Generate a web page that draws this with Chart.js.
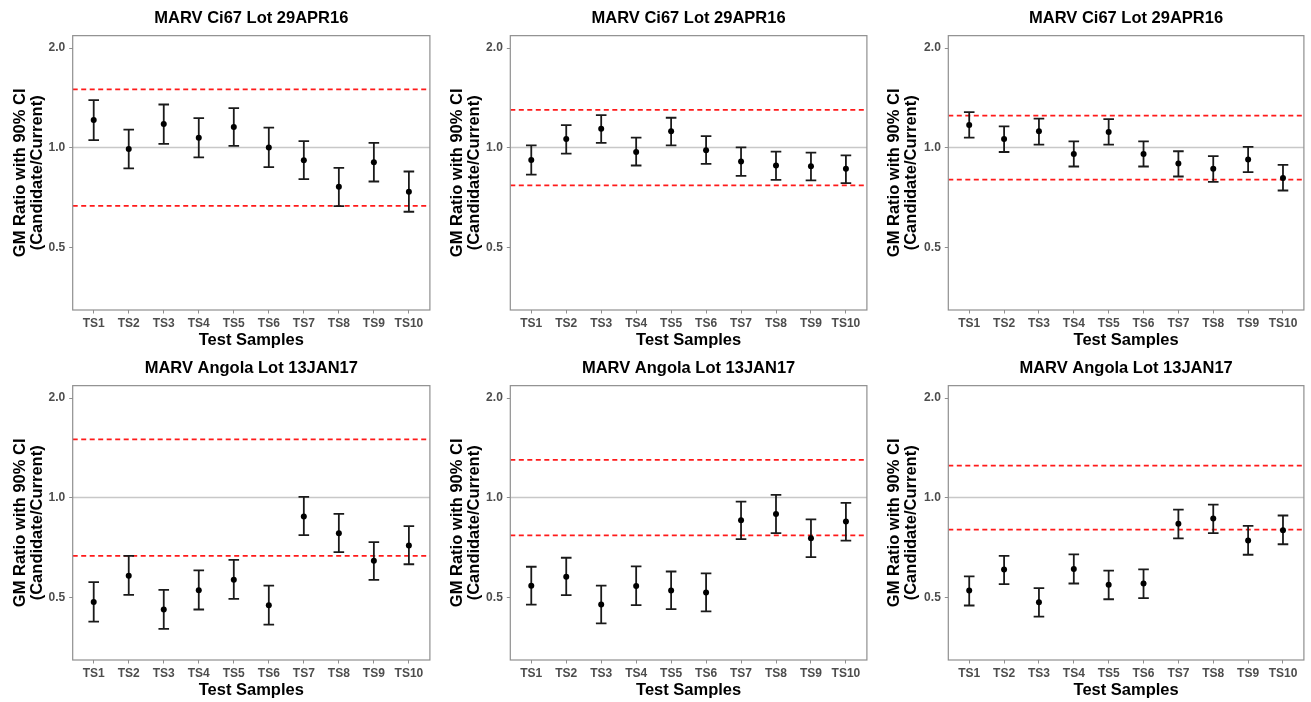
<!DOCTYPE html>
<html><head><meta charset="utf-8">
<script src="https://cdn.jsdelivr.net/npm/chart.js@4/dist/chart.umd.min.js"></script>
<style>
html,body{margin:0;padding:0;background:#fff;width:1311px;height:702px;overflow:hidden}
.p{position:absolute;width:437px;height:350px}
</style></head><body>
<div class="p" style="left:0px;top:0px"><canvas id="c0" width="437" height="350"></canvas></div>
<div class="p" style="left:437px;top:0px"><canvas id="c1" width="437" height="350"></canvas></div>
<div class="p" style="left:874px;top:0px"><canvas id="c2" width="437" height="350"></canvas></div>
<div class="p" style="left:0px;top:350px"><canvas id="c3" width="437" height="350"></canvas></div>
<div class="p" style="left:437px;top:350px"><canvas id="c4" width="437" height="350"></canvas></div>
<div class="p" style="left:874px;top:350px"><canvas id="c5" width="437" height="350"></canvas></div>
<script>
// ---- data ----
const categories = ['TS1','TS2','TS3','TS4','TS5','TS6','TS7','TS8','TS9','TS10'];
const yTicks = [0.5, 1.0, 2.0];
const refValue = 1.0;
const titles = ['MARV Ci67 Lot 29APR16','MARV Ci67 Lot 29APR16','MARV Ci67 Lot 29APR16',
                'MARV Angola Lot 13JAN17','MARV Angola Lot 13JAN17','MARV Angola Lot 13JAN17'];
const limitUpper = [1.5, 1.3, 1.25, 1.5, 1.3, 1.25];
const limitLower = [0.667, 0.769, 0.8, 0.667, 0.769, 0.8];

const gm1 = [1.211, 0.991, 1.178, 1.072, 1.154, 1.000, 0.916, 0.761, 0.903, 0.735];
const lo1 = [1.054, 0.866, 1.026, 0.935, 1.012, 0.873, 0.803, 0.666, 0.790, 0.640];
const hi1 = [1.392, 1.133, 1.350, 1.228, 1.316, 1.149, 1.047, 0.869, 1.033, 0.847];

const gm2 = [0.918, 1.062, 1.141, 0.970, 1.120, 0.982, 0.908, 0.883, 0.879, 0.863];
const lo2 = [0.829, 0.959, 1.033, 0.883, 1.016, 0.893, 0.822, 0.799, 0.796, 0.781];
const hi2 = [1.016, 1.170, 1.254, 1.072, 1.231, 1.084, 1.002, 0.973, 0.966, 0.948];

const gm3 = [1.170, 1.062, 1.120, 0.957, 1.115, 0.957, 0.895, 0.863, 0.920, 0.810];
const lo3 = [1.072, 0.970, 1.021, 0.877, 1.021, 0.877, 0.818, 0.788, 0.843, 0.742];
const hi3 = [1.281, 1.159, 1.223, 1.045, 1.220, 1.045, 0.975, 0.942, 1.005, 0.887];

const gm4 = [0.484, 0.581, 0.459, 0.525, 0.565, 0.473, 0.877, 0.781, 0.645, 0.717];
const lo4 = [0.422, 0.508, 0.401, 0.459, 0.494, 0.413, 0.770, 0.684, 0.564, 0.629];
const hi4 = [0.555, 0.667, 0.526, 0.603, 0.648, 0.542, 1.005, 0.893, 0.734, 0.820];

const gm5 = [0.542, 0.577, 0.475, 0.541, 0.524, 0.517, 0.855, 0.893, 0.754, 0.847];
const lo5 = [0.475, 0.507, 0.417, 0.473, 0.460, 0.453, 0.749, 0.781, 0.661, 0.741];
const hi5 = [0.618, 0.658, 0.542, 0.620, 0.598, 0.590, 0.973, 1.019, 0.859, 0.964];

const gm6 = [0.524, 0.606, 0.483, 0.608, 0.545, 0.550, 0.834, 0.865, 0.742, 0.797];
const lo6 = [0.472, 0.548, 0.437, 0.550, 0.493, 0.497, 0.753, 0.781, 0.672, 0.723];
const hi6 = [0.578, 0.667, 0.533, 0.674, 0.602, 0.607, 0.920, 0.953, 0.822, 0.883];

const panels = [
  {gm: gm1, lo: lo1, hi: hi1}, {gm: gm2, lo: lo2, hi: hi2}, {gm: gm3, lo: lo3, hi: hi3},
  {gm: gm4, lo: lo4, hi: hi4}, {gm: gm5, lo: lo5, hi: hi5}, {gm: gm6, lo: lo6, hi: hi6}
];

// ---- layout / style ----
const Y_MIN = 0.323, Y_MAX = 2.18;
const X_MIN = 0.4, X_MAX = 10.6;
const colAxisW = [72.7, 73.3, 74.3];
const colRightPad = [3.7, 2.3, 3.7];
const FONT = "'Liberation Sans', Arial, Helvetica, sans-serif";

const framePlugin = {
  id: 'frame',
  afterDraw(chart) {
    const {ctx, chartArea: a} = chart;
    ctx.save();
    ctx.strokeStyle = '#8f8f8f';
    ctx.lineWidth = 1.2;
    ctx.strokeRect(a.left, a.top, a.right - a.left, a.bottom - a.top);
    ctx.restore();
  }
};

panels.forEach((p, k) => {
  const col = k % 3;
  const xs = categories.map((c, i) => i + 1);
  const whisker = [];
  xs.forEach((x, i) => {
    whisker.push({x: x, y: p.lo[i]}, {x: x, y: p.hi[i]}, {x: x, y: null});
  });
  const pts = xs.map((x, i) => ({x: x, y: p.gm[i]}));
  const hline = (v) => [{x: X_MIN, y: v}, {x: X_MAX, y: v}];

  new Chart(document.getElementById('c' + k), {
    type: 'line',
    data: {
      datasets: [
        {data: pts, showLine: false, pointRadius: 3, pointBackgroundColor: '#000', pointBorderColor: '#000', pointBorderWidth: 0, order: 0},
        {data: whisker, spanGaps: false, borderColor: '#1a1a1a', borderWidth: 1.8,
         pointStyle: 'line', pointRadius: 5.3, pointBorderColor: '#1a1a1a', pointBorderWidth: 1.8, order: 1},
        {data: hline(limitUpper[k]), borderColor: '#ff1a1a', borderWidth: 1.8, borderDash: [5, 3.5], pointRadius: 0, order: 2},
        {data: hline(limitLower[k]), borderColor: '#ff1a1a', borderWidth: 1.8, borderDash: [5, 3.5], pointRadius: 0, order: 2},
        {data: hline(refValue), borderColor: '#c8c8c8', borderWidth: 1.5, pointRadius: 0, order: 3}
      ]
    },
    options: {
      responsive: false,
      animation: false,
      events: [],
      layout: {padding: {left: 0, right: colRightPad[col], top: 0, bottom: 0}},
      plugins: {
        legend: {display: false},
        tooltip: {enabled: false},
        title: {
          display: true, text: titles[k], fullSize: false, color: '#000',
          font: {family: FONT, size: 16.5, weight: 'bold', lineHeight: 1.1},
          padding: {top: 9.5, bottom: 8}
        }
      },
      scales: {
        x: {
          type: 'linear', min: X_MIN, max: X_MAX, bounds: 'data',
          afterBuildTicks: (s) => { s.ticks = xs.map(v => ({value: v})); s.min = X_MIN; s.max = X_MAX; },
          afterFit: (s) => { s.height = 40; },
          ticks: {
            autoSkip: false, maxRotation: 0, minRotation: 0, padding: 2.5,
            color: '#4d4d4d', font: {family: FONT, size: 12, weight: 'bold'},
            callback: (v) => categories[Math.round(v) - 1]
          },
          grid: {display: true, drawOnChartArea: false, drawTicks: true, tickLength: 3.5, color: '#8f8f8f', lineWidth: 1},
          border: {display: false},
          title: {display: true, text: 'Test Samples', color: '#000',
                  font: {family: FONT, size: 16.5, weight: 'bold', lineHeight: 1.2}, padding: {top: 0, bottom: 0}}
        },
        y: {
          type: 'logarithmic', min: Y_MIN, max: Y_MAX, bounds: 'data',
          afterBuildTicks: (s) => { s.ticks = yTicks.map(v => ({value: v})); s.min = Y_MIN; s.max = Y_MAX; },
          afterFit: (s) => { s.width = colAxisW[col]; },
          ticks: {
            padding: 4, color: '#4d4d4d', font: {family: FONT, size: 12, weight: 'bold'},
            callback: (v) => Number(v).toFixed(1)
          },
          grid: {display: true, drawOnChartArea: false, drawTicks: true, tickLength: 3.5, color: '#8f8f8f', lineWidth: 1},
          border: {display: false},
          title: {display: true, text: ['GM Ratio with 90% CI', '(Candidate/Current)'], color: '#000',
                  font: {family: FONT, size: 16.5, weight: 'bold', lineHeight: '17px'}, padding: {top: 11.5, bottom: 0}}
        }
      }
    },
    plugins: [framePlugin]
  });
});
</script>
</body></html>
